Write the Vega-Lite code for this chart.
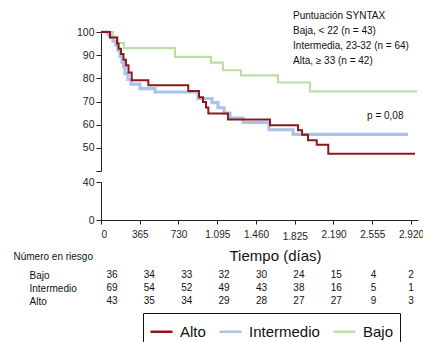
{
  "$schema": "https://vega.github.io/schema/vega-lite/v6.json",
  "padding": {"left": 13, "top": 11, "right": 5, "bottom": 0},
  "bounds": "flush",
  "spacing": 11,
  "resolve": {"scale": {"x": "independent", "y": "independent"}},
  "datasets": {
    "curvas": [
      {"grupo": "Intermedio", "dia": 0, "pct": 100},
      {"grupo": "Intermedio", "dia": 66, "pct": 98.9},
      {"grupo": "Intermedio", "dia": 85, "pct": 97.8},
      {"grupo": "Intermedio", "dia": 113, "pct": 96},
      {"grupo": "Intermedio", "dia": 141, "pct": 94.3},
      {"grupo": "Intermedio", "dia": 160, "pct": 92.1},
      {"grupo": "Intermedio", "dia": 179, "pct": 89.5},
      {"grupo": "Intermedio", "dia": 198, "pct": 87},
      {"grupo": "Intermedio", "dia": 212, "pct": 85},
      {"grupo": "Intermedio", "dia": 226, "pct": 82},
      {"grupo": "Intermedio", "dia": 254, "pct": 79.5},
      {"grupo": "Intermedio", "dia": 283, "pct": 77.5},
      {"grupo": "Intermedio", "dia": 367, "pct": 75.6},
      {"grupo": "Intermedio", "dia": 509, "pct": 74.1},
      {"grupo": "Intermedio", "dia": 914, "pct": 71.3},
      {"grupo": "Intermedio", "dia": 1046, "pct": 69.5},
      {"grupo": "Intermedio", "dia": 1102, "pct": 67.3},
      {"grupo": "Intermedio", "dia": 1159, "pct": 65},
      {"grupo": "Intermedio", "dia": 1215, "pct": 62.8},
      {"grupo": "Intermedio", "dia": 1338, "pct": 61},
      {"grupo": "Intermedio", "dia": 1583, "pct": 57.8},
      {"grupo": "Intermedio", "dia": 1809, "pct": 55.8},
      {"grupo": "Intermedio", "dia": 2892, "pct": 55.8},
      {"grupo": "Bajo", "dia": 0, "pct": 100},
      {"grupo": "Bajo", "dia": 113, "pct": 97.7},
      {"grupo": "Bajo", "dia": 160, "pct": 95.3},
      {"grupo": "Bajo", "dia": 215, "pct": 93},
      {"grupo": "Bajo", "dia": 697, "pct": 89.3},
      {"grupo": "Bajo", "dia": 1036, "pct": 86.8},
      {"grupo": "Bajo", "dia": 1149, "pct": 83.5},
      {"grupo": "Bajo", "dia": 1319, "pct": 81.3},
      {"grupo": "Bajo", "dia": 1667, "pct": 78.2},
      {"grupo": "Bajo", "dia": 1969, "pct": 74.4},
      {"grupo": "Bajo", "dia": 2977, "pct": 74.4},
      {"grupo": "Alto", "dia": 0, "pct": 100},
      {"grupo": "Alto", "dia": 85, "pct": 97.6},
      {"grupo": "Alto", "dia": 151, "pct": 95},
      {"grupo": "Alto", "dia": 165, "pct": 92.8},
      {"grupo": "Alto", "dia": 188, "pct": 90.5},
      {"grupo": "Alto", "dia": 212, "pct": 88},
      {"grupo": "Alto", "dia": 235, "pct": 85.7},
      {"grupo": "Alto", "dia": 259, "pct": 82.5},
      {"grupo": "Alto", "dia": 289, "pct": 79.2},
      {"grupo": "Alto", "dia": 446, "pct": 77},
      {"grupo": "Alto", "dia": 822, "pct": 74.5},
      {"grupo": "Alto", "dia": 923, "pct": 71.8},
      {"grupo": "Alto", "dia": 961, "pct": 69.8},
      {"grupo": "Alto", "dia": 989, "pct": 67.4},
      {"grupo": "Alto", "dia": 1011, "pct": 64.8},
      {"grupo": "Alto", "dia": 1196, "pct": 62.2},
      {"grupo": "Alto", "dia": 1592, "pct": 59.8},
      {"grupo": "Alto", "dia": 1856, "pct": 57.6},
      {"grupo": "Alto", "dia": 1894, "pct": 55.6},
      {"grupo": "Alto", "dia": 1950, "pct": 53.3},
      {"grupo": "Alto", "dia": 2032, "pct": 51.3},
      {"grupo": "Alto", "dia": 2141, "pct": 47.5},
      {"grupo": "Alto", "dia": 2958, "pct": 47.5}
    ],
    "riesgo": [
      {"grupo": "Bajo", "dia": 0, "n": 36},
      {"grupo": "Bajo", "dia": 365, "n": 34},
      {"grupo": "Bajo", "dia": 730, "n": 33},
      {"grupo": "Bajo", "dia": 1095, "n": 32},
      {"grupo": "Bajo", "dia": 1460, "n": 30},
      {"grupo": "Bajo", "dia": 1825, "n": 24},
      {"grupo": "Bajo", "dia": 2190, "n": 15},
      {"grupo": "Bajo", "dia": 2555, "n": 4},
      {"grupo": "Bajo", "dia": 2920, "n": 2},
      {"grupo": "Intermedio", "dia": 0, "n": 69},
      {"grupo": "Intermedio", "dia": 365, "n": 54},
      {"grupo": "Intermedio", "dia": 730, "n": 52},
      {"grupo": "Intermedio", "dia": 1095, "n": 49},
      {"grupo": "Intermedio", "dia": 1460, "n": 43},
      {"grupo": "Intermedio", "dia": 1825, "n": 38},
      {"grupo": "Intermedio", "dia": 2190, "n": 16},
      {"grupo": "Intermedio", "dia": 2555, "n": 5},
      {"grupo": "Intermedio", "dia": 2920, "n": 1},
      {"grupo": "Alto", "dia": 0, "n": 43},
      {"grupo": "Alto", "dia": 365, "n": 35},
      {"grupo": "Alto", "dia": 730, "n": 34},
      {"grupo": "Alto", "dia": 1095, "n": 29},
      {"grupo": "Alto", "dia": 1460, "n": 28},
      {"grupo": "Alto", "dia": 1825, "n": 27},
      {"grupo": "Alto", "dia": 2190, "n": 27},
      {"grupo": "Alto", "dia": 2555, "n": 9},
      {"grupo": "Alto", "dia": 2920, "n": 3}
    ]
  },
  "vconcat": [
    {
      "width": 317,
      "height": 139,
      "layer": [
        {
          "data": {"name": "curvas"},
          "encoding": {
            "x": {"field": "dia", "type": "quantitative", "scale": {"domain": [0, 2986], "nice": false, "zero": false}, "axis": null},
            "y": {"field": "pct", "type": "quantitative", "scale": {"domain": [40, 100], "nice": false, "zero": false},
              "axis": {"values": [40, 50, 60, 70, 80, 90, 100], "labelExpr": "datum.value == 40 ? '' : datum.label", "tickSize": 5, "labelFontSize": 10.5, "labelPadding": 2, "title": null}},
            "color": {"field": "grupo", "type": "nominal",
              "scale": {"domain": ["Alto", "Intermedio", "Bajo"], "range": ["#8c1a1a", "#a9c4ec", "#bcdfa6"]},
              "legend": {"orient": "none", "legendX": 42, "legendY": 281, "direction": "horizontal", "title": null,
                "symbolType": "stroke", "symbolStrokeWidth": 2.5, "symbolSize": 484, "labelFontSize": 15, "labelColor": "#111",
                "labelOffset": 6, "columnPadding": 8, "padding": 6, "strokeColor": "#111"}}
          },
          "layer": [
            {"transform": [{"filter": "datum.grupo == 'Intermedio'"}], "mark": {"type": "line", "interpolate": "step-after", "strokeWidth": 3.2}},
            {"transform": [{"filter": "datum.grupo == 'Bajo'"}], "mark": {"type": "line", "interpolate": "step-after", "strokeWidth": 2.2}},
            {"transform": [{"filter": "datum.grupo == 'Alto'"}], "mark": {"type": "line", "interpolate": "step-after", "strokeWidth": 2}}
          ]
        },
        {
          "data": {"values": [{"texto": "Puntuación SYNTAX\nBaja, < 22 (n = 43)\nIntermedia, 23-32 (n = 64)\nAlta, ≥ 33 (n = 42)"}]},
          "mark": {"type": "text", "align": "left", "baseline": "alphabetic", "fontSize": 10, "lineBreak": "\n", "lineHeight": 15, "color": "#111"},
          "encoding": {
            "x": {"datum": 1809, "type": "quantitative", "scale": {"domain": [0, 2986], "nice": false, "zero": false}, "axis": null},
            "y": {"datum": 105.6, "type": "quantitative", "scale": {"domain": [40, 100], "nice": false, "zero": false},
              "axis": {"values": [40, 50, 60, 70, 80, 90, 100], "labelExpr": "datum.value == 40 ? '' : datum.label", "tickSize": 5, "labelFontSize": 10.5, "labelPadding": 2, "title": null}},
            "text": {"field": "texto"}
          }
        },
        {
          "data": {"values": [{"texto": "p = 0,08"}]},
          "mark": {"type": "text", "align": "left", "baseline": "alphabetic", "fontSize": 10, "color": "#111"},
          "encoding": {
            "x": {"datum": 2506, "type": "quantitative", "scale": {"domain": [0, 2986], "nice": false, "zero": false}, "axis": null},
            "y": {"datum": 62.6, "type": "quantitative", "scale": {"domain": [40, 100], "nice": false, "zero": false},
              "axis": {"values": [40, 50, 60, 70, 80, 90, 100], "labelExpr": "datum.value == 40 ? '' : datum.label", "tickSize": 5, "labelFontSize": 10.5, "labelPadding": 2, "title": null}},
            "text": {"field": "texto"}
          }
        }
      ]
    },
    {
      "width": 317,
      "height": 38,
      "data": {"values": [{}]},
      "mark": {"type": "point", "opacity": 0},
      "encoding": {
        "x": {"datum": 0, "type": "quantitative", "scale": {"domain": [0, 2986], "nice": false, "zero": false},
          "axis": {"values": [0, 365, 730, 1095, 1460, 1825, 2190, 2555, 2920],
            "labelExpr": "replace(format(datum.value, ','), ',', '.')",
            "tickSize": 4, "labelFontSize": 10, "labelPadding": {"condition": {"test": "datum.value == 1825", "value": 7}, "value": 5},
            "title": "Tiempo (días)", "titleFontSize": 15, "titleFontWeight": "normal", "titleX": 174, "titleY": 35, "titleBaseline": "middle", "titleColor": "#111"}},
        "y": {"datum": 0, "type": "quantitative", "scale": {"domain": [0, 40], "nice": false, "zero": false},
          "axis": {"values": [0, 40], "tickSize": 5, "labelFontSize": 10.5, "labelPadding": 2, "title": null}}
      }
    },
    {
      "width": 317,
      "height": 72,
      "data": {"name": "riesgo"},
      "mark": {"type": "text", "fontSize": 10, "color": "#111", "baseline": "middle"},
      "encoding": {
        "x": {"field": "dia", "type": "quantitative", "scale": {"domain": [-107, 2988], "nice": false, "zero": false}, "axis": null},
        "y": {"field": "grupo", "type": "nominal", "scale": {"type": "point", "domain": ["Bajo", "Intermedio", "Alto"], "padding": 0, "range": [44, 70]},
          "axis": {"domain": false, "ticks": false, "labelAlign": "left", "labelPadding": 72, "labelFontSize": 10, "labelColor": "#111",
            "title": "Número en riesgo", "titleAngle": 0, "titleX": -88, "titleY": 25, "titleAlign": "left", "titleBaseline": "middle",
            "titleFontSize": 10, "titleFontWeight": "normal", "titleColor": "#111"}},
        "text": {"field": "n", "type": "quantitative"}
      }
    }
  ],
  "config": {
    "font": "Liberation Sans",
    "view": {"stroke": null},
    "axis": {"grid": false, "domainColor": "#222", "tickColor": "#222", "labelColor": "#222", "labelFont": "Liberation Sans", "titleFont": "Liberation Sans"},
    "legend": {"labelFont": "Liberation Sans"},
    "text": {"font": "Liberation Sans"}
  }
}
